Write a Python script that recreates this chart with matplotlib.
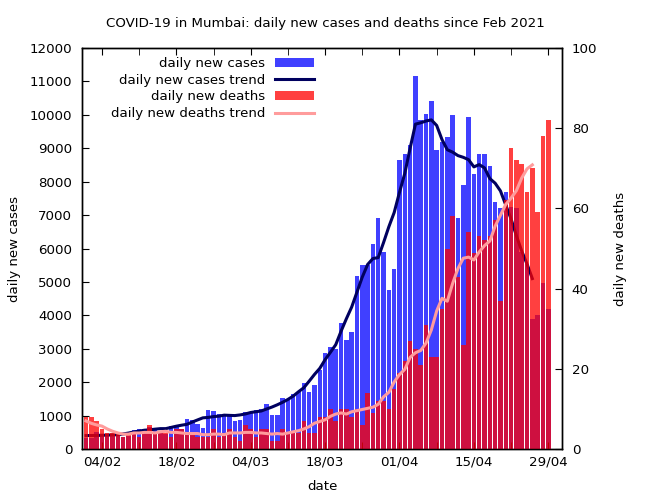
import matplotlib
matplotlib.use("Agg")
import matplotlib.pyplot as plt
import matplotlib.dates as mdates
from matplotlib.lines import Line2D
from matplotlib.patches import Patch
import pandas as pd

plt.rcParams.update({"font.family": "DejaVu Sans", "font.size": 9.6})

# daily values, 1 Feb .. 29 Apr 2021
START = "2021-02-01"
cases = [328, 334, 510, 433, 414, 414, 448, 355, 375, 558, 590,
         599, 645, 620, 550, 461, 690, 700, 600, 897, 880, 760, 643,
         1167, 1145, 1035, 987, 1051, 849, 855, 1121, 1103, 1173, 1188,
         1360, 1012, 1008, 1539, 1508, 1646, 1708, 1962, 1712, 1922, 2377,
         2877, 3062, 2982, 3775, 3260, 3512, 5185, 5504, 5513, 6123, 6923, 5888,
         4758, 5394, 8646, 8832, 9090, 11163, 9857, 10030, 10428, 8938, 9200,
         9327, 9989, 6905, 7898, 9925, 8217, 8839, 8834, 8479, 7381, 7214,
         7684, 7250, 7221, 5888, 5542, 3876, 4014, 4966, 4192]
deaths = [8, 8, 7, 5, 4, 4, 4, 3, 4, 4, 3,
          4, 6, 4, 4, 4, 3, 5, 5, 4, 4, 3, 3,
          3, 5, 3, 4, 5, 3, 2, 6, 5, 3, 5,
          5, 2, 2, 5, 4, 4, 4, 7, 4, 4, 8,
          8, 10, 7, 10, 10, 8, 10, 6, 14, 9, 12, 12,
          10, 15, 19, 22, 27, 25, 21, 31, 23, 23, 35,
          50, 58, 43, 26, 54, 49, 53, 52, 53, 57, 37,
          62, 75, 72, 71, 64, 70, 59, 78, 82]

dates = pd.date_range(START, periods=len(cases), freq="D")
# trend = centred 7-day mean of the same series (last 3 days have no full window)
cases_trend = pd.Series(cases).rolling(7, center=True, min_periods=4).mean()[:-3]
deaths_trend = pd.Series(deaths).rolling(7, center=True, min_periods=4).mean()[:-3]

BLUE, RED, NAVY, PINK = "#0000ff", "#ff0000", "#00005f", "#ff9c9c"

fig = plt.figure(figsize=(6.5, 5), dpi=100)
ax = fig.add_axes([82 / 650, 51 / 500, 480 / 650, 401 / 500])
ax2 = ax.twinx()

ax.bar(dates, cases, width=0.85, color=BLUE, alpha=0.75, linewidth=0)
ax.plot(dates[:-3], cases_trend, color=NAVY, lw=2.2)
ax2.bar(dates, deaths, width=0.85, color=RED, alpha=0.75, linewidth=0)
ax2.plot(dates[:-3], deaths_trend, color=PINK, lw=2.2)

ax.set_ylim(0, 12000); ax.set_yticks(range(0, 12001, 1000))
ax2.set_ylim(0, 100); ax2.set_yticks(range(0, 101, 20))
t0 = pd.Timestamp(START)
ax.set_xlim(t0 - pd.Timedelta(hours=18), t0 + pd.Timedelta(hours=int(89.6 * 24)))
ax.set_xticks(pd.date_range("2021-02-04", "2021-04-29", freq="14D"))
ax.set_xticks(pd.date_range("2021-02-11", "2021-04-29", freq="14D"), minor=True)
ax.xaxis.set_major_formatter(mdates.DateFormatter("%d/%m"))

ax.tick_params(axis="x", which="both", direction="in", top=True, length=5, pad=5)
ax.tick_params(axis="y", direction="in", right=False, length=5, pad=7)
ax2.tick_params(axis="y", direction="in", length=5, pad=7)
for a in (ax, ax2):
    for s in a.spines.values():
        s.set_linewidth(1.0)

ax.set_xlabel("date", labelpad=8)
ax.set_ylabel("daily new cases", labelpad=6)
ax2.set_ylabel("daily new deaths", labelpad=12)
fig.text(0.5, 1 - 24 / 500, "COVID-19 in Mumbai: daily new cases and deaths since Feb 2021",
         ha="center", va="center")

handles = [Patch(color=BLUE, alpha=0.75, lw=0), Line2D([], [], color=NAVY, lw=2.2),
           Patch(color=RED, alpha=0.75, lw=0), Line2D([], [], color=PINK, lw=2.2)]
labels = ["daily new cases", "daily new cases trend",
          "daily new deaths", "daily new deaths trend"]
ax2.legend(handles, labels, loc="upper right", bbox_to_anchor=(314 / 650, 1 - 57 / 500),
           bbox_transform=fig.transFigure, markerfirst=False, frameon=False,
           borderpad=0, borderaxespad=0, handlelength=2.9, handletextpad=0.75,
           labelspacing=0.28)

fig.savefig("out.png")
